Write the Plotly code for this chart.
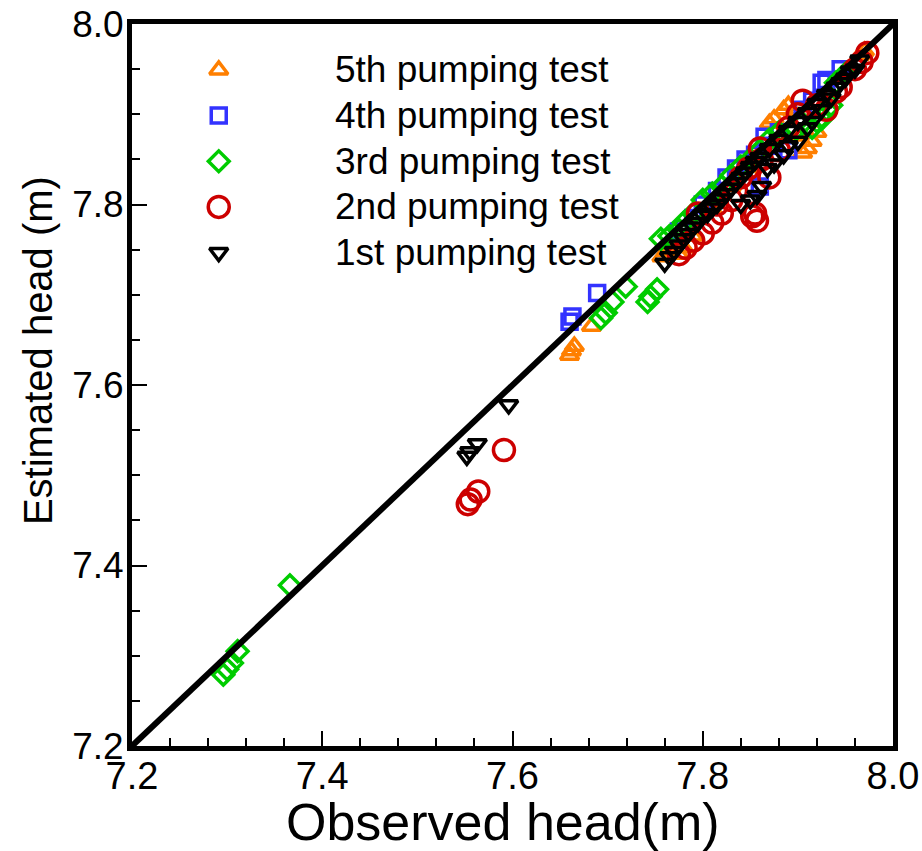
import plotly.graph_objects as go

# ---------------- data ----------------
series_names = ["5th pumping test", "4th pumping test", "3rd pumping test",
                "2nd pumping test", "1st pumping test"]

obs_5th = [7.660, 7.662, 7.665, 7.683, 7.757, 7.762, 7.775, 7.780, 7.790, 7.810, 7.830, 7.850,
           7.870, 7.875, 7.885, 7.890, 7.895, 7.900, 7.905, 7.910, 7.915, 7.920, 7.965, 7.970]
est_5th = [7.633, 7.638, 7.643, 7.665, 7.742, 7.748, 7.745, 7.752, 7.765, 7.795, 7.820, 7.835,
           7.890, 7.895, 7.905, 7.910, 7.902, 7.876, 7.857, 7.862, 7.870, 7.880, 7.965, 7.970]

obs_4th = [7.660, 7.663, 7.689, 7.775, 7.790, 7.800, 7.815, 7.825, 7.835, 7.845, 7.855, 7.860,
           7.865, 7.870, 7.880, 7.890, 7.905, 7.915, 7.925, 7.930, 7.945]
est_4th = [7.670, 7.676, 7.702, 7.770, 7.785, 7.800, 7.815, 7.830, 7.840, 7.850, 7.855, 7.820,
           7.875, 7.865, 7.880, 7.860, 7.905, 7.915, 7.935, 7.938, 7.950]

obs_3rd = [7.296, 7.300, 7.305, 7.311, 7.366, 7.693, 7.698, 7.705, 7.719, 7.742, 7.745, 7.752,
           7.756, 7.765, 7.775, 7.780, 7.790, 7.800, 7.810, 7.820, 7.830, 7.840, 7.850, 7.860,
           7.870, 7.880, 7.895, 7.905, 7.915, 7.920, 7.925, 7.930, 7.935, 7.940, 7.950]
est_3rd = [7.279, 7.285, 7.292, 7.305, 7.378, 7.674, 7.680, 7.692, 7.709, 7.692, 7.698, 7.706,
           7.762, 7.765, 7.772, 7.780, 7.790, 7.805, 7.812, 7.820, 7.832, 7.842, 7.850, 7.860,
           7.872, 7.880, 7.880, 7.890, 7.885, 7.892, 7.895, 7.905, 7.910, 7.935, 7.945]

obs_2nd = [7.553, 7.556, 7.564, 7.591, 7.775, 7.782, 7.790, 7.795, 7.800, 7.810, 7.815, 7.820,
           7.830, 7.835, 7.840, 7.848, 7.852, 7.855, 7.857, 7.860, 7.862, 7.870, 7.880, 7.890,
           7.900, 7.905, 7.920, 7.930, 7.940, 7.945, 7.960, 7.967, 7.973]
est_2nd = [7.468, 7.473, 7.482, 7.528, 7.745, 7.752, 7.760, 7.790, 7.768, 7.780, 7.800, 7.790,
           7.805, 7.815, 7.830, 7.840, 7.787, 7.790, 7.782, 7.862, 7.850, 7.830, 7.860, 7.885,
           7.900, 7.915, 7.910, 7.905, 7.925, 7.930, 7.950, 7.958, 7.968]

obs_1st = [7.552, 7.555, 7.563, 7.596, 7.760, 7.765, 7.770, 7.775, 7.780, 7.785, 7.790, 7.795,
           7.800, 7.805, 7.810, 7.815, 7.820, 7.825, 7.830, 7.835, 7.840, 7.845, 7.850, 7.855,
           7.860, 7.870, 7.880, 7.890, 7.900, 7.910, 7.920, 7.930, 7.940, 7.950, 7.960,
           7.840, 7.850, 7.857, 7.862, 7.868, 7.875, 7.885, 7.890, 7.900, 7.910, 7.915, 7.925,
           7.935, 7.945, 7.955, 7.965]
est_1st = [7.521, 7.526, 7.535, 7.578, 7.735, 7.742, 7.748, 7.755, 7.762, 7.768, 7.775, 7.780,
           7.788, 7.790, 7.796, 7.800, 7.806, 7.812, 7.818, 7.824, 7.830, 7.836, 7.842, 7.848,
           7.852, 7.862, 7.872, 7.882, 7.892, 7.902, 7.912, 7.922, 7.930, 7.940, 7.950,
           7.800, 7.805, 7.810, 7.820, 7.840, 7.845, 7.855, 7.865, 7.870, 7.885, 7.892, 7.905,
           7.918, 7.935, 7.948, 7.960]

ref_line = [7.2, 8.0]
x_ticks = [7.2, 7.4, 7.6, 7.8, 8.0]
y_ticks = [7.2, 7.4, 7.6, 7.8, 8.0]
tick_text = ["7.2", "7.4", "7.6", "7.8", "8.0"]
x_title = "Observed head(m)"
y_title = "Estimated head (m)"

# ---------------- styles ----------------
colors = ["#FF7F00", "#3333FF", "#00CC00", "#CC0000", "#000000"]
symbols = ["triangle-up-open", "square-open", "diamond-open", "circle-open", "triangle-down-open"]
sizes = [16, 15, 16, 21, 16]
xs = [obs_5th, obs_4th, obs_3rd, obs_2nd, obs_1st]
ys = [est_5th, est_4th, est_3rd, est_2nd, est_1st]

SANS = "Liberation Sans, Arial"

fig = go.Figure()
for name, x, y, c, s, sz in zip(series_names, xs, ys, colors, symbols, sizes):
    fig.add_trace(go.Scatter(
        x=x, y=y, mode="markers", name=name, showlegend=False,
        marker=dict(symbol=s, size=sz, color=c, line=dict(color=c, width=3.5)),
    ))

fig.add_trace(go.Scatter(x=ref_line, y=ref_line, mode="lines", showlegend=False,
                         line=dict(color="black", width=6)))

# manual legend (overlay axes in 0..1 units)
leg_x = 0.114
leg_text_x = 0.264
leg_y0 = 0.9363
leg_dy = 0.0632
for i, (name, c, s, sz) in enumerate(zip(series_names, colors, symbols, sizes)):
    yy = leg_y0 - i * leg_dy
    fig.add_trace(go.Scatter(
        x=[leg_x], y=[yy], xaxis="x2", yaxis="y2", mode="markers", showlegend=False,
        marker=dict(symbol=s, size=sz, color=c, line=dict(color=c, width=3.5)),
    ))
    fig.add_annotation(x=leg_text_x, y=yy, xref="x2", yref="y2", text=name,
                       showarrow=False, xanchor="left", yanchor="middle",
                       font=dict(family=SANS, size=37, color="black"))

# axis titles
fig.add_annotation(x=0.487, y=-0.105, xref="paper", yref="paper", text=x_title,
                   showarrow=False, xanchor="center", yanchor="middle",
                   font=dict(family=SANS, size=52, color="black"))
fig.add_annotation(x=-0.1235, y=0.547, xref="paper", yref="paper", text=y_title,
                   textangle=-90, showarrow=False, xanchor="center", yanchor="middle",
                   font=dict(family=SANS, size=40, color="black"))

fig.update_layout(
    width=922, height=851,
    margin=dict(l=132, r=29, t=24, b=105, autoexpand=False),
    paper_bgcolor="white", plot_bgcolor="white",
    showlegend=False,
    xaxis=dict(
        range=[7.2, 8.0], tickvals=x_ticks, ticktext=tick_text, automargin=False,
        ticks="inside", ticklen=15, tickwidth=2, tickcolor="black",
        minor=dict(dtick=0.04, tick0=7.2, ticks="inside", ticklen=8, tickwidth=1.5, tickcolor="black"),
        showline=True, linewidth=5, linecolor="black", mirror=True,
        showgrid=False, zeroline=False, ticklabelstandoff=-8, ticklabeloverflow="allow",
        tickfont=dict(family=SANS, size=38, color="black"),
    ),
    yaxis=dict(
        range=[7.2, 8.0], tickvals=y_ticks, ticktext=tick_text, automargin=False,
        ticks="inside", ticklen=15, tickwidth=2, tickcolor="black",
        minor=dict(dtick=0.05, tick0=7.2, ticks="inside", ticklen=8, tickwidth=1.5, tickcolor="black"),
        showline=True, linewidth=5, linecolor="black", mirror=True,
        showgrid=False, zeroline=False, ticklabelstandoff=-4, ticklabeloverflow="allow",
        tickfont=dict(family=SANS, size=37, color="black"),
    ),
    xaxis2=dict(range=[0, 1], overlaying="x", visible=False, fixedrange=True),
    yaxis2=dict(range=[0, 1], overlaying="y", visible=False, fixedrange=True),
)

fig.write_html("out.html",
               config={"displayModeBar": False},
               post_script="document.body.style.margin='0';document.body.style.overflow='hidden';")
